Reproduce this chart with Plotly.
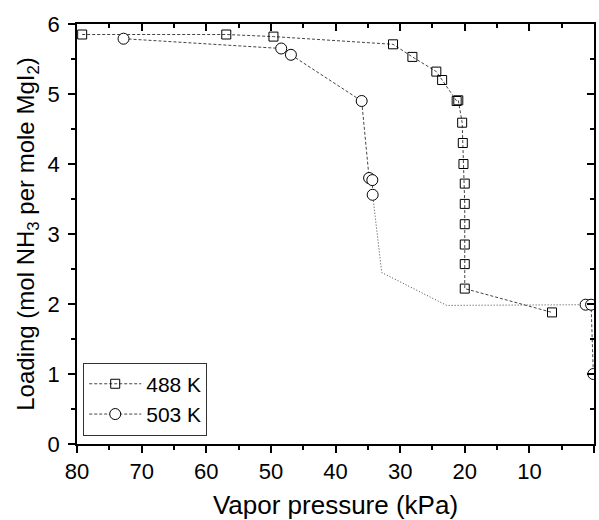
import plotly.graph_objects as go

# 488 K data (kPa, mol NH3 per mol MgI2)
p488 = [79.2, 56.9, 49.6, 31.1, 28.1, 24.4, 23.5, 21.25, 21.0, 20.4, 20.3, 20.2, 20.0, 20.0, 20.0, 20.0, 20.0, 20.0, 6.5]
l488 = [5.85, 5.85, 5.82, 5.71, 5.53, 5.32, 5.20, 4.90, 4.91, 4.59, 4.30, 4.00, 3.72, 3.43, 3.14, 2.85, 2.57, 2.22, 1.88]

# 503 K data (None = gap in the dashed connection)
p503 = [72.8, 48.4, 46.9, 35.95, 34.8, 34.3, 34.25, None, 1.3, 0.45, 0.1]
l503 = [5.79, 5.65, 5.56, 4.90, 3.80, 3.77, 3.56, None, 1.99, 1.99, 1.00]

# dotted guide line for 503 K
pguide = [34.25, 32.85, 22.8, 1.3]
lguide = [3.56, 2.45, 1.98, 1.99]

xticks = [80, 70, 60, 50, 40, 30, 20, 10, 0]
yticks = [0, 1, 2, 3, 4, 5, 6]

FONT = "Arial, Liberation Sans, sans-serif"
LINEC = "#444444"

fig = go.Figure()
fig.add_trace(go.Scatter(
    x=pguide, y=lguide, mode="lines", showlegend=False,
    line=dict(color=LINEC, width=1, dash="1px,2px"), hoverinfo="skip"))
fig.add_trace(go.Scatter(
    x=p488, y=l488, mode="lines+markers", name="488 K",
    line=dict(color=LINEC, width=1, dash="3px,2px"),
    marker=dict(symbol="square-open", size=9, color="black", line=dict(width=1))))
fig.add_trace(go.Scatter(
    x=p503, y=l503, mode="lines+markers", name="503 K", connectgaps=False,
    line=dict(color=LINEC, width=1, dash="3px,2px"),
    marker=dict(symbol="circle", size=11, color="white", line=dict(color="black", width=1))))

axis_common = dict(showgrid=False, zeroline=False, linecolor="black", linewidth=1.5,
                   tickcolor="black", tickwidth=1.5)

fig.update_layout(
    width=599, height=520,
    margin=dict(l=77, r=5, t=24, b=76),
    plot_bgcolor="white", paper_bgcolor="white",
    font=dict(family=FONT, color="black", size=22),
    xaxis=dict(range=[80, 0], tickvals=xticks, ticks="outside", ticklen=7,
               minor=dict(dtick=5, ticks="outside", ticklen=4, tickcolor="black", tickwidth=1.5),
               title=dict(text="Vapor pressure (kPa)", font=dict(size=26), standoff=19),
               automargin=False,
               tickfont=dict(size=22), **axis_common),
    yaxis=dict(range=[0, 6], tickvals=yticks, ticks="outside", ticklen=7,
               ticklabelstandoff=4, automargin=False,
               minor=dict(dtick=0.5, ticks="outside", ticklen=4, tickcolor="black", tickwidth=1.5),
               title=dict(text="Loading (mol NH<sub>3</sub> per mole MgI<sub>2</sub>)",
                          font=dict(size=24), standoff=6),
               tickfont=dict(size=22), **axis_common),
    xaxis2=dict(range=[80, 0], overlaying="x", side="top", tickvals=xticks, ticks="inside",
                ticklen=7, showticklabels=False,
                minor=dict(dtick=5, ticks="inside", ticklen=4, tickcolor="black", tickwidth=1.5),
                **axis_common),
    yaxis2=dict(range=[0, 6], overlaying="y", side="right", tickvals=yticks, ticks="inside",
                ticklen=7, showticklabels=False,
                minor=dict(dtick=0.5, ticks="inside", ticklen=4, tickcolor="black", tickwidth=1.5),
                **axis_common),
    legend=dict(x=0.012, y=0.02, xanchor="left", yanchor="bottom",
                bordercolor="#333333", borderwidth=1, bgcolor="white",
                font=dict(size=21), tracegroupgap=0, itemwidth=52),
    showlegend=True,
)
# dummy trace to activate secondary axes
fig.add_trace(go.Scatter(x=[None], y=[None], xaxis="x2", yaxis="y2", showlegend=False, hoverinfo="skip"))

fig.write_html("out.html")
